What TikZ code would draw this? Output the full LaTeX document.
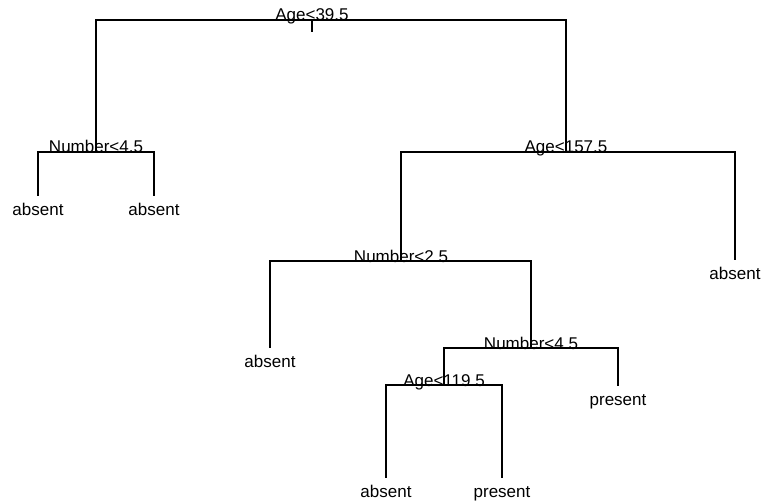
\documentclass[tikz,border=0pt]{standalone}
\usepackage{fontspec}
\setmainfont{Liberation Sans}
\begin{document}
\begin{tikzpicture}[x=1pt,y=-1pt,
    branch/.style={line width=1.6pt},
    splitlabel/.style={anchor=base,inner sep=0pt,font=\fontsize{17}{20}\selectfont},
    leaflabel/.style={anchor=base,inner sep=0pt,font=\fontsize{17}{20}\selectfont}]
        \useasboundingbox (0,0) rectangle (761,503);
        % split points
        \coordinate (root) at (312,20);
        \coordinate (roottick) at (312,32);
        \coordinate (numA) at (96,152);
        \coordinate (ageB) at (566,152);
        \coordinate (numC) at (401,261);
        \coordinate (numD) at (531,348);
        \coordinate (ageE) at (444,385);
        % leaves
        \coordinate (leafA) at (38,196);
        \coordinate (leafB) at (154,196);
        \coordinate (leafC) at (735,260);
        \coordinate (leafD) at (270,348);
        \coordinate (leafE) at (618,386);
        \coordinate (leafF) at (386,478);
        \coordinate (leafG) at (502,478);
        % branches
        \draw[branch] (root) -- (roottick);
        \draw[branch] (root) -| (numA);
        \draw[branch] (root) -| (ageB);
        \draw[branch] (numA) -| (leafA);
        \draw[branch] (numA) -| (leafB);
        \draw[branch] (ageB) -| (numC);
        \draw[branch] (ageB) -| (leafC);
        \draw[branch] (numC) -| (leafD);
        \draw[branch] (numC) -| (numD);
        \draw[branch] (numD) -| (ageE);
        \draw[branch] (numD) -| (leafE);
        \draw[branch] (ageE) -| (leafF);
        \draw[branch] (ageE) -| (leafG);
        % split labels
        \node[splitlabel] (tRoot) at ([yshift=-1pt]root) {Age<39.5};
        \node[splitlabel] (tNumA) at ([yshift=-1pt]numA) {Number<4.5};
        \node[splitlabel] (tAgeB) at ([yshift=-1pt]ageB) {Age<157.5};
        \node[splitlabel] (tNumC) at ([yshift=-1pt]numC) {Number<2.5};
        \node[splitlabel] (tNumD) at ([yshift=-1pt]numD) {Number<4.5};
        \node[splitlabel] (tAgeE) at ([yshift=-1pt]ageE) {Age<119.5};
        % leaf labels
        \node[leaflabel] (tLeafA) at ([yshift=-19pt]leafA) {absent};
        \node[leaflabel] (tLeafB) at ([yshift=-19pt]leafB) {absent};
        \node[leaflabel] (tLeafC) at ([yshift=-19pt]leafC) {absent};
        \node[leaflabel] (tLeafD) at ([yshift=-19pt]leafD) {absent};
        \node[leaflabel] (tLeafE) at ([yshift=-19pt]leafE) {present};
        \node[leaflabel] (tLeafF) at ([yshift=-19pt]leafF) {absent};
        \node[leaflabel] (tLeafG) at ([yshift=-19pt]leafG) {present};
    \end{tikzpicture}
\end{document}
